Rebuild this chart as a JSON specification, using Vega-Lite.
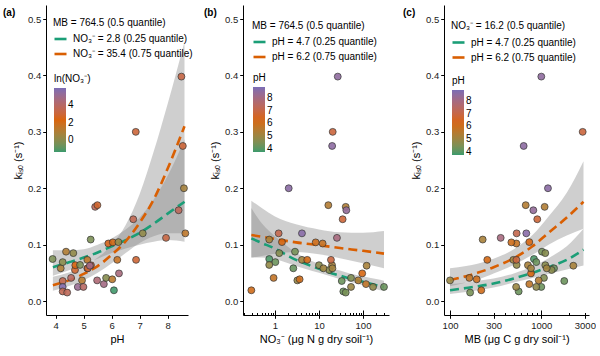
{
  "$schema": "https://vega.github.io/schema/vega-lite/v6.json",
  "autosize": {"type": "pad"},
  "padding": {"left": 3, "top": 5, "right": 0, "bottom": 0},
  "bounds": "flush",
  "spacing": 55,
  "datasets": {
    "samples": [
      {"pH":3.89,"NO3":0.74,"MB":831,"k":0.0745},
      {"pH":4.18,"NO3":2.61,"MB":1378,"k":0.058},
      {"pH":4.25,"NO3":1.02,"MB":881,"k":0.069},
      {"pH":4.37,"NO3":2.85,"MB":1017,"k":0.0875},
      {"pH":4.63,"NO3":1.25,"MB":1106,"k":0.085},
      {"pH":4.25,"NO3":32.9,"MB":1785,"k":0.0355},
      {"pH":4.25,"NO3":300,"MB":1000,"k":0.025},
      {"pH":4.25,"NO3":35.7,"MB":565,"k":0.017},
      {"pH":4.41,"NO3":40.5,"MB":166,"k":0.015},
      {"pH":4.55,"NO3":53.4,"MB":1069,"k":0.041},
      {"pH":4.69,"NO3":17.1,"MB":1299,"k":0.055},
      {"pH":4.70,"NO3":10,"MB":1106,"k":0.0635},
      {"pH":4.79,"NO3":169,"MB":881,"k":0.025},
      {"pH":4.87,"NO3":0.74,"MB":537,"k":0.064},
      {"pH":4.94,"NO3":3.22,"MB":100,"k":0.0366},
      {"pH":4.99,"NO3":53.4,"MB":530,"k":0.025},
      {"pH":5.13,"NO3":4.1,"MB":494,"k":0.073},
      {"pH":5.13,"NO3":12.6,"MB":1146,"k":0.058},
      {"pH":5.26,"NO3":19.8,"MB":714,"k":0.0635},
      {"pH":5.25,"NO3":0.74,"MB":228,"k":0.109},
      {"pH":5.41,"NO3":40.5,"MB":1088,"k":0.167},
      {"pH":5.49,"NO3":16.3,"MB":675,"k":0.170},
      {"pH":5.48,"NO3":78,"MB":936,"k":0.0366},
      {"pH":5.72,"NO3":117,"MB":739,"k":0.030},
      {"pH":5.80,"NO3":0.93,"MB":163,"k":0.041},
      {"pH":5.88,"NO3":12.1,"MB":533,"k":0.102},
      {"pH":6.04,"NO3":8.4,"MB":470,"k":0.104},
      {"pH":6.02,"NO3":3.63,"MB":196,"k":0.0385},
      {"pH":6.08,"NO3":0.29,"MB":220,"k":0.019},
      {"pH":6.24,"NO3":1.44,"MB":739,"k":0.1045},
      {"pH":6.20,"NO3":5.4,"MB":256,"k":0.073},
      {"pH":6.26,"NO3":96,"MB":771,"k":0.049},
      {"pH":6.77,"NO3":34.5,"MB":903,"k":0.145},
      {"pH":6.87,"NO3":18.7,"MB":533,"k":0.073},
      {"pH":7.11,"NO3":1.21,"MB":537,"k":0.12},
      {"pH":7.94,"NO3":25.6,"MB":359,"k":0.112},
      {"pH":8.39,"NO3":41.8,"MB":818,"k":0.161},
      {"pH":8.58,"NO3":2.05,"MB":1183,"k":0.20},
      {"pH":8.63,"NO3":4.1,"MB":685,"k":0.12},
      {"pH":6.86,"NO3":20.5,"MB":2840,"k":0.300},
      {"pH":8.49,"NO3":26.7,"MB":1000,"k":0.398},
      {"pH":8.54,"NO3":19.9,"MB":641,"k":0.275},
      {"pH":5.15,"NO3":20.2,"MB":771,"k":0.058},
      {"pH":5.22,"NO3":121,"MB":2244,"k":0.0626}
    ],
    "curvesA": [
      {"grp":"NO₃⁻ = 2.8 (0.25 quantile)","pH":3.9,"k":0.060,"lo":0.045,"hi":0.090},
      {"grp":"NO₃⁻ = 2.8 (0.25 quantile)","pH":4.5,"k":0.069,"lo":0.055,"hi":0.090},
      {"grp":"NO₃⁻ = 2.8 (0.25 quantile)","pH":5.0,"k":0.077,"lo":0.065,"hi":0.092},
      {"grp":"NO₃⁻ = 2.8 (0.25 quantile)","pH":5.5,"k":0.086,"lo":0.075,"hi":0.100},
      {"grp":"NO₃⁻ = 2.8 (0.25 quantile)","pH":6.0,"k":0.097,"lo":0.085,"hi":0.111},
      {"grp":"NO₃⁻ = 2.8 (0.25 quantile)","pH":6.5,"k":0.108,"lo":0.093,"hi":0.127},
      {"grp":"NO₃⁻ = 2.8 (0.25 quantile)","pH":7.0,"k":0.121,"lo":0.100,"hi":0.148},
      {"grp":"NO₃⁻ = 2.8 (0.25 quantile)","pH":7.5,"k":0.137,"lo":0.105,"hi":0.180},
      {"grp":"NO₃⁻ = 2.8 (0.25 quantile)","pH":8.0,"k":0.155,"lo":0.108,"hi":0.222},
      {"grp":"NO₃⁻ = 2.8 (0.25 quantile)","pH":8.6,"k":0.176,"lo":0.105,"hi":0.287},
      {"grp":"NO₃⁻ = 35.4 (0.75 quantile)","pH":3.9,"k":0.028,"lo":0.018,"hi":0.043},
      {"grp":"NO₃⁻ = 35.4 (0.75 quantile)","pH":4.5,"k":0.037,"lo":0.027,"hi":0.051},
      {"grp":"NO₃⁻ = 35.4 (0.75 quantile)","pH":5.0,"k":0.048,"lo":0.037,"hi":0.061},
      {"grp":"NO₃⁻ = 35.4 (0.75 quantile)","pH":5.5,"k":0.062,"lo":0.050,"hi":0.077},
      {"grp":"NO₃⁻ = 35.4 (0.75 quantile)","pH":6.0,"k":0.082,"lo":0.067,"hi":0.100},
      {"grp":"NO₃⁻ = 35.4 (0.75 quantile)","pH":6.5,"k":0.106,"lo":0.085,"hi":0.135},
      {"grp":"NO₃⁻ = 35.4 (0.75 quantile)","pH":7.0,"k":0.139,"lo":0.103,"hi":0.190},
      {"grp":"NO₃⁻ = 35.4 (0.75 quantile)","pH":7.5,"k":0.180,"lo":0.115,"hi":0.265},
      {"grp":"NO₃⁻ = 35.4 (0.75 quantile)","pH":8.0,"k":0.235,"lo":0.120,"hi":0.350},
      {"grp":"NO₃⁻ = 35.4 (0.75 quantile)","pH":8.6,"k":0.310,"lo":0.120,"hi":0.460}
    ],
    "curvesB": [
      {"grp":"pH = 4.7 (0.25 quantile)","NO3":0.29,"k":0.111,"lo":0.077,"hi":0.165},
      {"grp":"pH = 4.7 (0.25 quantile)","NO3":0.5,"k":0.103,"lo":0.077,"hi":0.138},
      {"grp":"pH = 4.7 (0.25 quantile)","NO3":1,"k":0.093,"lo":0.074,"hi":0.115},
      {"grp":"pH = 4.7 (0.25 quantile)","NO3":2,"k":0.080,"lo":0.067,"hi":0.096},
      {"grp":"pH = 4.7 (0.25 quantile)","NO3":3,"k":0.073,"lo":0.062,"hi":0.086},
      {"grp":"pH = 4.7 (0.25 quantile)","NO3":5,"k":0.066,"lo":0.057,"hi":0.076},
      {"grp":"pH = 4.7 (0.25 quantile)","NO3":10,"k":0.057,"lo":0.050,"hi":0.066},
      {"grp":"pH = 4.7 (0.25 quantile)","NO3":20,"k":0.049,"lo":0.043,"hi":0.058},
      {"grp":"pH = 4.7 (0.25 quantile)","NO3":30,"k":0.045,"lo":0.039,"hi":0.054},
      {"grp":"pH = 4.7 (0.25 quantile)","NO3":50,"k":0.040,"lo":0.034,"hi":0.049},
      {"grp":"pH = 4.7 (0.25 quantile)","NO3":100,"k":0.034,"lo":0.028,"hi":0.044},
      {"grp":"pH = 4.7 (0.25 quantile)","NO3":200,"k":0.028,"lo":0.021,"hi":0.039},
      {"grp":"pH = 4.7 (0.25 quantile)","NO3":300,"k":0.025,"lo":0.018,"hi":0.036},
      {"grp":"pH = 6.2 (0.75 quantile)","NO3":0.29,"k":0.117,"lo":0.077,"hi":0.178},
      {"grp":"pH = 6.2 (0.75 quantile)","NO3":0.5,"k":0.114,"lo":0.080,"hi":0.165},
      {"grp":"pH = 6.2 (0.75 quantile)","NO3":1,"k":0.110,"lo":0.084,"hi":0.150},
      {"grp":"pH = 6.2 (0.75 quantile)","NO3":3,"k":0.104,"lo":0.087,"hi":0.136},
      {"grp":"pH = 6.2 (0.75 quantile)","NO3":10,"k":0.099,"lo":0.083,"hi":0.127},
      {"grp":"pH = 6.2 (0.75 quantile)","NO3":30,"k":0.094,"lo":0.076,"hi":0.122},
      {"grp":"pH = 6.2 (0.75 quantile)","NO3":100,"k":0.089,"lo":0.067,"hi":0.121},
      {"grp":"pH = 6.2 (0.75 quantile)","NO3":300,"k":0.084,"lo":0.058,"hi":0.124}
    ],
    "curvesC": [
      {"grp":"pH = 4.7 (0.25 quantile)","MB":100,"k":0.019,"lo":0.0124,"hi":0.030},
      {"grp":"pH = 4.7 (0.25 quantile)","MB":150,"k":0.023,"lo":0.016,"hi":0.033},
      {"grp":"pH = 4.7 (0.25 quantile)","MB":200,"k":0.026,"lo":0.019,"hi":0.036},
      {"grp":"pH = 4.7 (0.25 quantile)","MB":300,"k":0.031,"lo":0.024,"hi":0.040},
      {"grp":"pH = 4.7 (0.25 quantile)","MB":500,"k":0.040,"lo":0.033,"hi":0.049},
      {"grp":"pH = 4.7 (0.25 quantile)","MB":800,"k":0.050,"lo":0.041,"hi":0.061},
      {"grp":"pH = 4.7 (0.25 quantile)","MB":1200,"k":0.060,"lo":0.048,"hi":0.076},
      {"grp":"pH = 4.7 (0.25 quantile)","MB":1900,"k":0.073,"lo":0.056,"hi":0.097},
      {"grp":"pH = 4.7 (0.25 quantile)","MB":2900,"k":0.091,"lo":0.063,"hi":0.128},
      {"grp":"pH = 6.2 (0.75 quantile)","MB":100,"k":0.037,"lo":0.026,"hi":0.058},
      {"grp":"pH = 6.2 (0.75 quantile)","MB":150,"k":0.044,"lo":0.033,"hi":0.062},
      {"grp":"pH = 6.2 (0.75 quantile)","MB":200,"k":0.050,"lo":0.038,"hi":0.066},
      {"grp":"pH = 6.2 (0.75 quantile)","MB":300,"k":0.060,"lo":0.049,"hi":0.075},
      {"grp":"pH = 6.2 (0.75 quantile)","MB":500,"k":0.076,"lo":0.064,"hi":0.092},
      {"grp":"pH = 6.2 (0.75 quantile)","MB":800,"k":0.097,"lo":0.082,"hi":0.117},
      {"grp":"pH = 6.2 (0.75 quantile)","MB":1200,"k":0.121,"lo":0.100,"hi":0.150},
      {"grp":"pH = 6.2 (0.75 quantile)","MB":1900,"k":0.148,"lo":0.116,"hi":0.192},
      {"grp":"pH = 6.2 (0.75 quantile)","MB":2900,"k":0.176,"lo":0.128,"hi":0.248}
    ]
  },
  "resolve": {
    "scale": {"fill": "independent", "stroke": "independent"},
    "legend": {"fill": "independent", "stroke": "independent"}
  },
  "hconcat": [
    {
      "width": 142, "height": 310,
      "title": {"text": "(a)", "dx": -43, "offset": -13},
      "layer": [
        {
          "data": {"name": "curvesA"},
          "mark": {"type": "area", "fill": "#888888", "fillOpacity": 0.4, "interpolate": "monotone"},
          "encoding": {
            "x": {"field": "pH", "type": "quantitative", "scale": {"domain": [3.654, 8.725], "nice": false, "zero": false}, "axis": {"values": [4, 5, 6, 7, 8], "labelOverlap": false, "title": "pH"}},
            "y": {"field": "lo", "type": "quantitative", "scale": {"domain": [-0.0248, 0.525], "nice": false, "zero": false}, "axis": {"values": [0, 0.1, 0.2, 0.3, 0.4, 0.5], "format": ".1f", "title": "kᵢₛₒ (s⁻¹)"}},
            "y2": {"field": "hi"},
            "detail": {"field": "grp"}
          }
        },
        {
          "data": {"name": "curvesA"},
          "mark": {"type": "line", "strokeWidth": 2.6, "strokeDash": [9, 5], "interpolate": "monotone"},
          "encoding": {
            "x": {"field": "pH", "type": "quantitative", "axis": {"values": [4, 5, 6, 7, 8], "labelOverlap": false, "title": "pH"}},
            "y": {"field": "k", "type": "quantitative", "axis": {"values": [0, 0.1, 0.2, 0.3, 0.4, 0.5], "format": ".1f", "title": "kᵢₛₒ (s⁻¹)"}},
            "stroke": {"field": "grp", "type": "nominal",
              "scale": {"domain": ["NO₃⁻ = 2.8 (0.25 quantile)", "NO₃⁻ = 35.4 (0.75 quantile)"], "range": ["#1b9e77", "#d95f02"]},
              "legend": {"orient": "none", "legendX": 7, "legendY": 12.5, "title": "MB = 764.5 (0.5 quantile)"}}
          }
        },
        {
          "data": {"name": "samples"},
          "mark": {"type": "circle", "size": 48, "stroke": "#333333", "strokeWidth": 0.7, "fillOpacity": 0.9},
          "encoding": {
            "x": {"field": "pH", "type": "quantitative", "axis": {"values": [4, 5, 6, 7, 8], "labelOverlap": false, "title": "pH"}},
            "y": {"field": "k", "type": "quantitative", "axis": {"values": [0, 0.1, 0.2, 0.3, 0.4, 0.5], "format": ".1f", "title": "kᵢₛₒ (s⁻¹)"}},
            "fill": {"field": "NO3", "type": "quantitative",
              "scale": {"type": "log", "domain": [0.2725, 10.1, 376], "range": ["#3a9a6c", "#d9640c", "#7a6db5"], "interpolate": "lab"},
              "legend": {"orient": "none", "legendX": 8, "legendY": 69, "title": "ln(NO₃⁻)", "direction": "vertical", "gradientLength": 64, "gradientThickness": 12, "values": [1, 7.389056, 54.59815], "labelExpr": "format(log(datum.value), '.0f')"}}
          }
        }
      ]
    },
    {
      "width": 146, "height": 310,
      "title": {"text": "(b)", "dx": -39, "offset": -13},
      "resolve": {"axis": {"x": "independent"}},
      "layer": [
        {
          "data": {"name": "curvesB"},
          "mark": {"type": "area", "fill": "#888888", "fillOpacity": 0.4, "interpolate": "monotone"},
          "encoding": {
            "x": {"field": "NO3", "type": "quantitative", "scale": {"type": "log", "domain": [0.1874, 390], "nice": false}, "axis": {"orient": "bottom", "values": [1, 10, 100], "format": "d", "title": "NO₃⁻ (μg N g dry soil⁻¹)"}},
            "y": {"field": "lo", "type": "quantitative", "scale": {"domain": [-0.0248, 0.525], "nice": false, "zero": false}, "axis": {"values": [0, 0.1, 0.2, 0.3, 0.4, 0.5], "format": ".1f", "title": "kᵢₛₒ (s⁻¹)"}},
            "y2": {"field": "hi"},
            "detail": {"field": "grp"}
          }
        },
        {
          "data": {"name": "curvesB"},
          "mark": {"type": "line", "strokeWidth": 2.6, "strokeDash": [9, 5], "interpolate": "monotone"},
          "encoding": {
            "x": {"field": "NO3", "type": "quantitative", "axis": {"orient": "bottom", "values": [0.2, 0.3, 0.4, 0.5, 0.6, 0.7, 0.8, 0.9, 2, 3, 4, 5, 6, 7, 8, 9, 20, 30, 40, 50, 60, 70, 80, 90, 200, 300], "labels": false, "domain": false, "tickSize": -2.5, "title": null}},
            "y": {"field": "k", "type": "quantitative", "axis": {"values": [0, 0.1, 0.2, 0.3, 0.4, 0.5], "format": ".1f", "title": "kᵢₛₒ (s⁻¹)"}},
            "stroke": {"field": "grp", "type": "nominal",
              "scale": {"domain": ["pH = 4.7 (0.25 quantile)", "pH = 6.2 (0.75 quantile)"], "range": ["#1b9e77", "#d95f02"]},
              "legend": {"orient": "none", "legendX": 9, "legendY": 15.5, "title": "MB = 764.5 (0.5 quantile)"}}
          }
        },
        {
          "data": {"name": "samples"},
          "mark": {"type": "circle", "size": 48, "stroke": "#333333", "strokeWidth": 0.7, "fillOpacity": 0.9},
          "encoding": {
            "x": {"field": "NO3", "type": "quantitative", "axis": {"orient": "bottom", "values": [1, 10, 100], "labels": false, "domain": false, "tickSize": -5, "title": null}},
            "y": {"field": "k", "type": "quantitative", "axis": {"values": [0, 0.1, 0.2, 0.3, 0.4, 0.5], "format": ".1f", "title": "kᵢₛₒ (s⁻¹)"}},
            "fill": {"field": "pH", "type": "quantitative",
              "scale": {"domain": [3.76, 6.31, 8.86], "range": ["#3a9a6c", "#d9640c", "#7a6db5"], "interpolate": "lab"},
              "legend": {"orient": "none", "legendX": 10, "legendY": 68, "title": "pH", "direction": "vertical", "gradientLength": 65, "gradientThickness": 12, "values": [4, 5, 6, 7, 8]}}
          }
        }
      ]
    },
    {
      "width": 145, "height": 310,
      "title": {"text": "(c)", "dx": -41, "offset": -13},
      "resolve": {"axis": {"x": "independent"}},
      "layer": [
        {
          "data": {"name": "curvesC"},
          "mark": {"type": "area", "fill": "#888888", "fillOpacity": 0.4, "interpolate": "monotone"},
          "encoding": {
            "x": {"field": "MB", "type": "quantitative", "scale": {"type": "log", "domain": [85.9, 3331], "nice": false}, "axis": {"orient": "bottom", "values": [100, 300, 1000, 3000], "format": "d", "title": "MB (μg C g dry soil⁻¹)"}},
            "y": {"field": "lo", "type": "quantitative", "scale": {"domain": [-0.0248, 0.525], "nice": false, "zero": false}, "axis": {"values": [0, 0.1, 0.2, 0.3, 0.4, 0.5], "format": ".1f", "title": "kᵢₛₒ (s⁻¹)"}},
            "y2": {"field": "hi"},
            "detail": {"field": "grp"}
          }
        },
        {
          "data": {"name": "curvesC"},
          "mark": {"type": "line", "strokeWidth": 2.6, "strokeDash": [9, 5], "interpolate": "monotone"},
          "encoding": {
            "x": {"field": "MB", "type": "quantitative", "axis": {"orient": "bottom", "values": [200, 300, 400, 500, 600, 700, 800, 900, 2000, 3000], "labels": false, "domain": false, "tickSize": -2.5, "title": null}},
            "y": {"field": "k", "type": "quantitative", "axis": {"values": [0, 0.1, 0.2, 0.3, 0.4, 0.5], "format": ".1f", "title": "kᵢₛₒ (s⁻¹)"}},
            "stroke": {"field": "grp", "type": "nominal",
              "scale": {"domain": ["pH = 4.7 (0.25 quantile)", "pH = 6.2 (0.75 quantile)"], "range": ["#1b9e77", "#d95f02"]},
              "legend": {"orient": "none", "legendX": 7, "legendY": 16, "title": "NO₃⁻ = 16.2 (0.5 quantile)"}}
          }
        },
        {
          "data": {"name": "samples"},
          "mark": {"type": "circle", "size": 48, "stroke": "#333333", "strokeWidth": 0.7, "fillOpacity": 0.9},
          "encoding": {
            "x": {"field": "MB", "type": "quantitative", "axis": {"orient": "bottom", "values": [100, 1000], "labels": false, "domain": false, "tickSize": -5, "title": null}},
            "y": {"field": "k", "type": "quantitative", "axis": {"values": [0, 0.1, 0.2, 0.3, 0.4, 0.5], "format": ".1f", "title": "kᵢₛₒ (s⁻¹)"}},
            "fill": {"field": "pH", "type": "quantitative",
              "scale": {"domain": [3.76, 6.31, 8.86], "range": ["#3a9a6c", "#d9640c", "#7a6db5"], "interpolate": "lab"},
              "legend": {"orient": "none", "legendX": 8, "legendY": 71, "title": "pH", "direction": "vertical", "gradientLength": 65, "gradientThickness": 12, "values": [4, 5, 6, 7, 8]}}
          }
        }
      ]
    }
  ],
  "config": {
    "font": "Liberation Sans",
    "view": {"stroke": null},
    "title": {"fontSize": 10, "fontWeight": "bold", "anchor": "start", "frame": "group", "baseline": "middle", "color": "#000000"},
    "axis": {"grid": false, "labelOverlap": false, "domainColor": "#000000", "tickColor": "#000000", "labelColor": "#1a1a1a", "titleColor": "#000000", "labelFontSize": 9.5, "titleFontSize": 11, "titleFontWeight": "normal", "tickSize": 3.3, "labelPadding": 2, "domainWidth": 1, "tickWidth": 1, "titlePadding": 4},
    "legend": {"padding": 0, "labelFontSize": 10, "titleFontSize": 10, "titleFontWeight": "normal", "titleColor": "#000000", "labelColor": "#000000", "labelLimit": 300, "titleLimit": 300, "titlePadding": 4, "labelOffset": 5, "rowPadding": 2, "symbolType": "stroke", "symbolStrokeWidth": 2.6, "symbolSize": 144, "symbolDash": [], "gradientStrokeWidth": 0}
  }
}
